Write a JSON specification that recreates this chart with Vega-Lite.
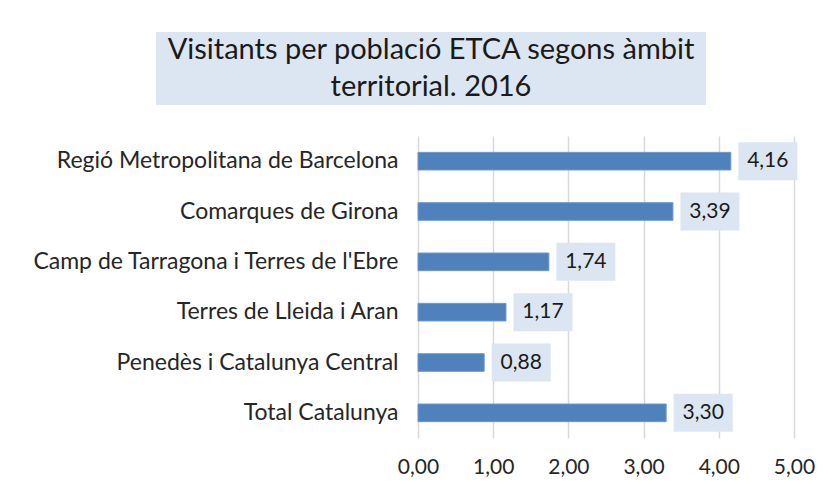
{
  "$schema": "https://vega.github.io/schema/vega-lite/v6.json",
  "padding": {"left": 31, "top": 32, "right": 10, "bottom": 10},
  "background": "white",
  "config": {
    "locale": {"number": {"decimal": ",", "thousands": ".", "grouping": [3], "currency": ["", " €"]}},
    "font": "Lato",
    "view": {"stroke": null}
  },
  "spacing": 31,
  "vconcat": [
    {
      "width": 376,
      "height": 73,
      "data": {"values": [
        {"linia": 1, "text": "Visitants per població ETCA segons àmbit", "inici": -3.484, "fi": 3.83, "centre": 0.173},
        {"linia": 2, "text": "territorial. 2016", "inici": -3.484, "fi": 3.83, "centre": 0.173}
      ]},
      "layer": [
        {
          "mark": {"type": "rect", "color": "#dce6f2"},
          "encoding": {
            "x": {"aggregate": "min", "field": "inici", "type": "quantitative", "scale": {"domain": [0, 5], "nice": false, "zero": false}, "axis": null},
            "x2": {"aggregate": "max", "field": "fi"}
          }
        },
        {
          "mark": {"type": "text", "font": "Lato", "fontSize": 29, "color": "#1a1a1a", "baseline": "middle", "align": "center"},
          "encoding": {
            "x": {"field": "centre", "type": "quantitative"},
            "y": {"field": "linia", "type": "ordinal", "axis": null},
            "text": {"field": "text"}
          }
        }
      ]
    },
    {
      "width": 376,
      "height": 302,
      "data": {"values": [
        {"ambit": "Regió Metropolitana de Barcelona", "valor": 4.16},
        {"ambit": "Comarques de Girona", "valor": 3.39},
        {"ambit": "Camp de Tarragona i Terres de l'Ebre", "valor": 1.74},
        {"ambit": "Terres de Lleida i Aran", "valor": 1.17},
        {"ambit": "Penedès i Catalunya Central", "valor": 0.88},
        {"ambit": "Total Catalunya", "valor": 3.30}
      ]},
      "encoding": {
        "y": {"field": "ambit", "type": "nominal", "sort": null,
              "scale": {"paddingInner": 0.65, "paddingOuter": 0.325},
              "axis": {"title": null, "domain": false, "ticks": false, "tickSize": 0, "labelPadding": 20, "labelLimit": 0, "labelFont": "Lato", "labelFontSize": 23, "labelColor": "#262626", "minExtent": 383, "maxExtent": 383}}
      },
      "layer": [
        {
          "mark": {"type": "bar", "color": "#4f81bd", "stroke": "#6f97c9", "strokeWidth": 1},
          "encoding": {
            "x": {"field": "valor", "type": "quantitative", "scale": {"domain": [0, 5]},
                  "axis": {"title": null, "values": [0, 1, 2, 3, 4, 5], "format": ".2f", "grid": true, "gridColor": "#d9d9d9", "gridWidth": 1.5, "domain": false, "ticks": false, "tickSize": 0, "labelPadding": 18, "labelFlush": false, "labelFont": "Lato", "labelFontSize": 21, "labelColor": "#262626"}}
          }
        },
        {
          "mark": {"type": "bar", "color": "#dce6f2", "xOffset": 7.5, "x2Offset": 66.5, "height": 38},
          "encoding": {
            "x": {"field": "valor", "type": "quantitative"},
            "x2": {"field": "valor"}
          }
        },
        {
          "mark": {"type": "text", "dx": 37, "align": "center", "baseline": "middle", "font": "Lato", "fontSize": 21, "color": "#1a1a1a"},
          "encoding": {
            "x": {"field": "valor", "type": "quantitative"},
            "text": {"field": "valor", "type": "quantitative", "format": ".2f"}
          }
        }
      ]
    }
  ]
}
